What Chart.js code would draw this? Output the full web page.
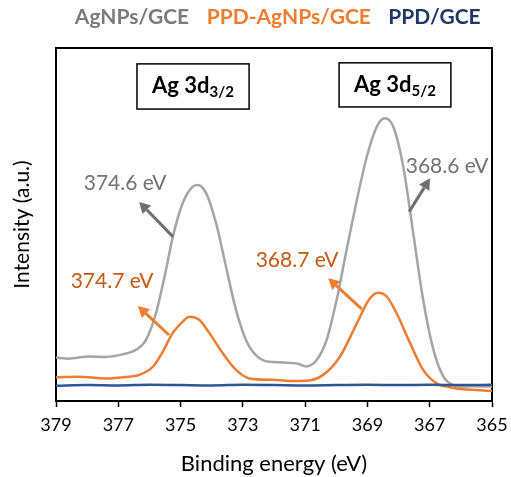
<!DOCTYPE html>
<html>
<head>
<meta charset="utf-8">
<script src="https://cdn.jsdelivr.net/npm/chart.js@4"></script>
<style>
	html, body { margin: 0; padding: 0; background: #fff; }
	#wrap { width: 511px; height: 477px; }
</style>
</head>
<body>
<div id="wrap"><canvas id="graph"></canvas></div>
<script>
// series labels
var seriesNames = ['AgNPs/GCE', 'PPD-AgNPs/GCE', 'PPD/GCE'];

// AgNPs/GCE
var agEnergy = [379.0, 378.6, 377.94, 377.4, 376.86, 376.43, 376.11, 375.79, 375.47, 375.25, 374.93, 374.61, 374.45, 374.18, 373.86, 373.54, 373.22, 372.90, 372.58, 372.16, 371.8, 371.52, 371.2, 370.97, 370.63, 370.31, 369.99, 369.67, 369.34, 369.02, 368.70, 368.44, 368.17, 367.85, 367.53, 367.21, 366.88, 366.56, 366.24, 365.92, 365.5, 365.0];
var agIntensity = [12.3, 12.0, 12.6, 12.5, 13.2, 14.5, 17.3, 24.9, 37.1, 46.5, 56.1, 60.7, 61.2, 58.9, 50.4, 38.0, 25.8, 17.3, 13.0, 11.1, 11.0, 10.8, 10.5, 9.8, 11.6, 17.3, 28.6, 42.8, 56.9, 69.2, 77.7, 80.1, 77.7, 66.4, 47.6, 28.6, 14.5, 6.9, 4.5, 4.1, 4.2, 4.1];

// PPD-AgNPs/GCE
var ppdAgEnergy = [379.0, 378.3, 377.39, 376.8, 376.33, 375.89, 375.57, 375.25, 374.93, 374.72, 374.40, 374.08, 373.65, 373.22, 372.79, 372.04, 371.5, 370.97, 370.42, 369.88, 369.34, 368.92, 368.65, 368.38, 368.06, 367.63, 367.21, 366.78, 366.35, 365.92, 365.49, 365.0];
var ppdAgIntensity = [6.7, 6.9, 6.4, 6.8, 7.4, 9.7, 14.0, 19.3, 22.5, 23.9, 23.0, 19.3, 13.6, 8.8, 6.4, 6.0, 5.7, 5.75, 7.4, 12.6, 22.0, 29.1, 30.7, 29.6, 24.8, 16.4, 8.8, 5.0, 3.9, 3.3, 3.1, 2.8];

// PPD/GCE
var ppdEnergy = [379, 378, 377, 376, 375, 374, 373, 372, 371, 370, 369, 368, 367, 366, 365];
var ppdIntensity = [4.3, 4.5, 4.4, 4.6, 4.5, 4.4, 4.6, 4.5, 4.4, 4.5, 4.6, 4.5, 4.6, 4.5, 4.6];

// x axis
var energyMin = 365;
var energyMax = 379;
var energyStep = 2;

// peak annotations (energy / intensity units)
var peakText = ['374.6 eV', '374.7 eV', '368.7 eV', '368.6 eV'];
var peakTextE = [376.78, 377.20, 371.26, 366.44];
var peakTextI = [61.8, 34.0, 39.9, 66.6];
var arrowFromE = [375.24, 375.37, 369.18, 367.66];
var arrowFromI = [46.5, 18.7, 26.0, 53.6];
var arrowToE = [376.33, 376.37, 370.26, 366.99];
var arrowToI = [56.4, 26.9, 34.8, 63.1];

// orbital boxes
var boxMain = ['Ag 3d', 'Ag 3d'];
var boxSub = ['3/2', '5/2'];
var boxE1 = [376.40, 369.91];
var boxE2 = [372.80, 366.32];
var boxI1 = [95.5, 95.8];
var boxI2 = [82.7, 83.3];

var lineColors = ['#A5A5A5', '#ED7D31', '#2F5597'];
var legendColors = ['#7B7B7B', '#ED7D31', '#203864'];
var peakColors = ['#767171', '#C55A11', '#C55A11', '#767171'];
var arrowColors = ['#6E6E6E', '#ED7D31', '#ED7D31', '#6E6E6E'];

var fontName = 'Lato';

function pairs(xs, ys) {
	return xs.map((x, i) => ({ x: x, y: ys[i] }));
}

const annotations = {
	id: 'annotations',
	afterDatasetsDraw(chart) {
		const c = chart.ctx;
		const xs = chart.scales.x;
		const ys = chart.scales.y;
		c.save();

		// arrows + peak positions
		for (let i = 0; i < peakText.length; i++) {
			const x1 = xs.getPixelForValue(arrowFromE[i]);
			const y1 = ys.getPixelForValue(arrowFromI[i]);
			const x2 = xs.getPixelForValue(arrowToE[i]);
			const y2 = ys.getPixelForValue(arrowToI[i]);
			const a = Math.atan2(y2 - y1, x2 - x1);
			const hl = 11, hw = 6;
			const bx = x2 - hl * Math.cos(a);
			const by = y2 - hl * Math.sin(a);
			c.strokeStyle = arrowColors[i];
			c.fillStyle = arrowColors[i];
			c.lineWidth = 3;
			c.beginPath();
			c.moveTo(x1, y1);
			c.lineTo(bx, by);
			c.stroke();
			c.beginPath();
			c.moveTo(x2, y2);
			c.lineTo(bx + hw * Math.sin(a), by - hw * Math.cos(a));
			c.lineTo(bx - hw * Math.sin(a), by + hw * Math.cos(a));
			c.closePath();
			c.fill();

			c.font = '21px ' + fontName;
			c.fillStyle = peakColors[i];
			c.textAlign = 'center';
			c.textBaseline = 'middle';
			c.fillText(peakText[i], xs.getPixelForValue(peakTextE[i]), ys.getPixelForValue(peakTextI[i]));
		}

		// boxes
		for (let i = 0; i < boxMain.length; i++) {
			const l = xs.getPixelForValue(boxE1[i]);
			const r = xs.getPixelForValue(boxE2[i]);
			const t = ys.getPixelForValue(boxI1[i]);
			const b = ys.getPixelForValue(boxI2[i]);
			c.fillStyle = '#fff';
			c.fillRect(l, t, r - l, b - t);
			c.strokeStyle = '#000';
			c.lineWidth = 1.5;
			c.strokeRect(l, t, r - l, b - t);

			c.font = 'bold 22px ' + fontName;
			const w1 = c.measureText(boxMain[i]).width;
			c.font = 'bold 15px ' + fontName;
			const w2 = c.measureText(boxSub[i]).width;
			const sx = (l + r) / 2 - (w1 + w2) / 2;
			const base = (t + b) / 2 + 7;
			c.fillStyle = '#000';
			c.textAlign = 'left';
			c.textBaseline = 'alphabetic';
			c.font = 'bold 22px ' + fontName;
			c.fillText(boxMain[i], sx, base);
			c.font = 'bold 15px ' + fontName;
			c.fillText(boxSub[i], sx + w1, base + 4);
		}
		c.restore();
	}
};

// nudge the legend so it sits over the plot area
const legendShift = {
	id: 'legendShift',
	afterLayout(chart) {
		chart.legend.left += 17;
		chart.legend.right += 17;
	}
};

const ctx = document.getElementById('graph').getContext('2d');

new Chart(ctx, {
	type: 'line',
	data: {
		datasets: [{
			label: seriesNames[0],
			data: pairs(agEnergy, agIntensity),
			borderColor: lineColors[0],
			backgroundColor: lineColors[0],
			borderWidth: 2.5,
			order: 3
		},
		{
			label: seriesNames[1],
			data: pairs(ppdAgEnergy, ppdAgIntensity),
			borderColor: lineColors[1],
			backgroundColor: lineColors[1],
			borderWidth: 2.5,
			order: 2
		},
		{
			label: seriesNames[2],
			data: pairs(ppdEnergy, ppdIntensity),
			borderColor: lineColors[2],
			backgroundColor: lineColors[2],
			borderWidth: 2.5,
			order: 1
		}]
	},
	options: {
		animation: false,
		responsive: true,
		maintainAspectRatio: false,
		layout: { padding: 0 },
		elements: {
			point: { radius: 0 },
			line: { cubicInterpolationMode: 'monotone' }
		},
		scales: {
			x: {
				type: 'linear',
				position: 'bottom',
				reverse: true,
				min: energyMin,
				max: energyMax,
				afterFit: s => { s.height = 76; s.paddingLeft = 0; s.paddingRight = 0; },
				ticks: {
					stepSize: energyStep,
					color: '#000',
					padding: 7,
					font: { family: fontName, size: 18 }
				},
				grid: {
					display: true,
					drawOnChartArea: false,
					drawTicks: true,
					tickLength: 6,
					tickWidth: 1.5,
					tickColor: '#000'
				},
				border: { color: '#000', width: 2 },
				title: {
					display: true,
					text: 'Binding energy (eV)',
					color: '#000',
					padding: 0,
					font: { family: fontName, size: 22 }
				}
			},
			x2: {
				type: 'linear',
				position: 'top',
				min: energyMin,
				max: energyMax,
				afterFit: s => { s.height = 10; s.paddingLeft = 0; s.paddingRight = 0; },
				ticks: { display: false },
				grid: { display: false },
				border: { color: '#000', width: 2 }
			},
			y: {
				min: 0,
				max: 100,
				afterFit: s => { s.width = 56; },
				ticks: { display: false },
				grid: { display: false },
				border: { color: '#000', width: 2 },
				title: {
					display: true,
					text: 'Intensity (a.u.)',
					color: '#000',
					padding: { top: 10, bottom: 0 },
					font: { family: fontName, size: 21 }
				}
			},
			y2: {
				position: 'right',
				min: 0,
				max: 100,
				afterFit: s => { s.width = 19; },
				ticks: { display: false },
				grid: { display: false },
				border: { color: '#000', width: 2 }
			}
		},
		plugins: {
			tooltip: { enabled: false },
			legend: {
				position: 'top',
				labels: {
					boxWidth: 0,
					boxHeight: 0,
					padding: 7,
					font: { family: fontName, size: 21, weight: 'bold' },
					generateLabels: chart => chart.data.datasets.map((ds, i) => ({
						text: ds.label,
						fontColor: legendColors[i],
						fillStyle: 'transparent',
						strokeStyle: 'transparent',
						lineWidth: 0,
						hidden: false,
						datasetIndex: i
					}))
				}
			}
		}
	},
	plugins: [annotations, legendShift]
});
</script>
</body>
</html>
